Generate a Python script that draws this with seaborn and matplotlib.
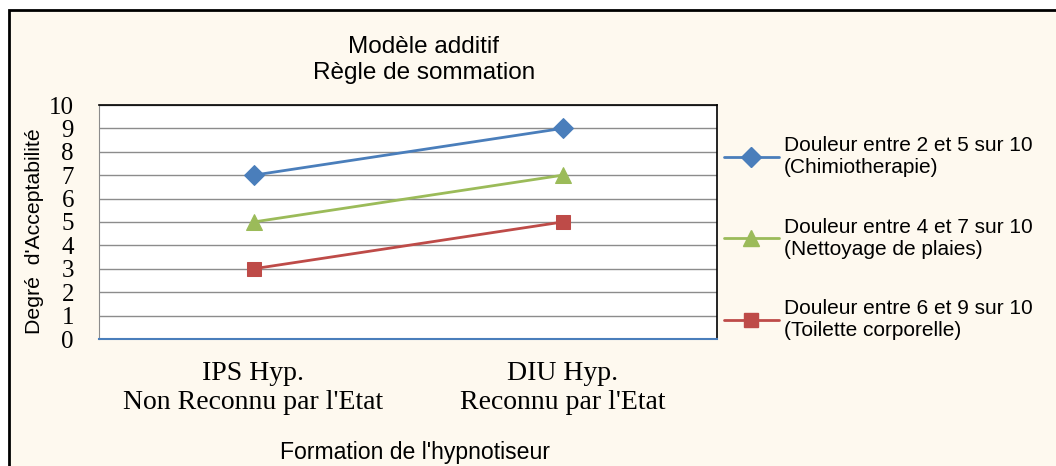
import matplotlib
matplotlib.use("Agg")
import matplotlib.pyplot as plt
from matplotlib.patches import Rectangle
from matplotlib.lines import Line2D
import seaborn as sns
import pandas as pd

# data
formations = ["IPS Hyp.\nNon Reconnu par l'Etat", "DIU Hyp.\nReconnu par l'Etat"]
series_names = [
    "Douleur entre 2 et 5 sur 10\n(Chimiotherapie)",
    "Douleur entre 4 et 7 sur 10\n(Nettoyage de plaies)",
    "Douleur entre 6 et 9 sur 10\n(Toilette corporelle)",
]
chimio = [7, 9]
nettoyage = [5, 7]
toilette = [3, 5]
y_ticks = list(range(0, 11))

colors = ["#4A7EBB", "#9BBB59", "#BE4B48"]
markers = ["D", "^", "s"]
msizes = [10, 11, 10.5]

rows = []
for name, vals in zip(series_names, [chimio, nettoyage, toilette]):
    for i, v in enumerate(vals):
        rows.append({"formation": i, "serie": name, "score": v})
df = pd.DataFrame(rows)

sns.set_style("white")
plt.rcParams["font.family"] = ["Liberation Sans", "DejaVu Sans"]
plt.rcParams["text.color"] = "black"
plt.rcParams["axes.labelcolor"] = "black"
plt.rcParams["xtick.color"] = "black"
plt.rcParams["ytick.color"] = "black"

fig = plt.figure(figsize=(10.56, 4.66), dpi=100, facecolor="white")
# cream panel with black outer frame
fig.patches.append(Rectangle((9 / 1056, -0.05), 1.1, 1 - 10 / 466 + 0.05,
                             transform=fig.transFigure, facecolor="#FEF9EF",
                             edgecolor="black", linewidth=2, zorder=-1))

ax = fig.add_axes([99 / 1056, 1 - 339 / 466, (717 - 99) / 1056, (339 - 105) / 466])
ax.set_zorder(2)
ax.set_facecolor("white")

for name, c, m, ms in zip(series_names, colors, markers, msizes):
    sub = df[df["serie"] == name]
    sns.lineplot(data=sub, x="formation", y="score", ax=ax, color=c, marker=m,
                 markersize=ms, markeredgecolor=c, linewidth=2, legend=False, zorder=3)

ax.set_xlim(-0.5, 1.5)
ax.set_ylim(0, 10)
ax.set_yticks(y_ticks)
ax.set_yticklabels([str(t) for t in y_ticks], family=["Liberation Serif"], fontsize=18)
ax.set_xticks(range(len(formations)))
ax.set_xticklabels(formations, family=["Liberation Serif"], fontsize=20, linespacing=1.2)
ax.tick_params(axis="both", length=0)
ax.tick_params(axis="y", pad=18)
ax.tick_params(axis="x", pad=16)
ax.yaxis.grid(True, color="#8C8C8C", linewidth=1)
ax.set_axisbelow(True)

for s in ["top", "right"]:
    ax.spines[s].set_color("black")
    ax.spines[s].set_linewidth(1.2)
ax.spines["left"].set_color("#8C8C8C")
ax.spines["bottom"].set_color("#4A7EBB")
ax.spines["bottom"].set_linewidth(1.5)

ax.set_ylabel("Degré  d'Acceptabilité", fontsize=15.3)
ax.yaxis.set_label_coords(35 / 1056, 1 - 231 / 466, transform=fig.transFigure)
ax.set_xlabel("Formation de l'hypnotiseur", fontsize=16.6)
ax.xaxis.set_label_coords(415 / 1056, 1 - 452 / 466, transform=fig.transFigure)
ax.xaxis.label.set_va("center")
ax.yaxis.label.set_va("center")

fig.text(424 / 1056, 1 - 60 / 466, "Modèle additif\nRègle de sommation",
         ha="center", va="center", fontsize=17.5, linespacing=1.25)

handles = [Line2D([0], [0], color=c, marker=m, markersize=ms, linewidth=2)
           for c, m, ms in zip(colors, markers, msizes)]
fig.legend(handles, series_names, loc="upper left", bbox_to_anchor=(716 / 1056, 1 - 128 / 466),
           frameon=False, fontsize=15, labelspacing=1.94, handlelength=2.6,
           handletextpad=0.25, borderaxespad=0)

fig.savefig("out.png", dpi=100, facecolor="white")
